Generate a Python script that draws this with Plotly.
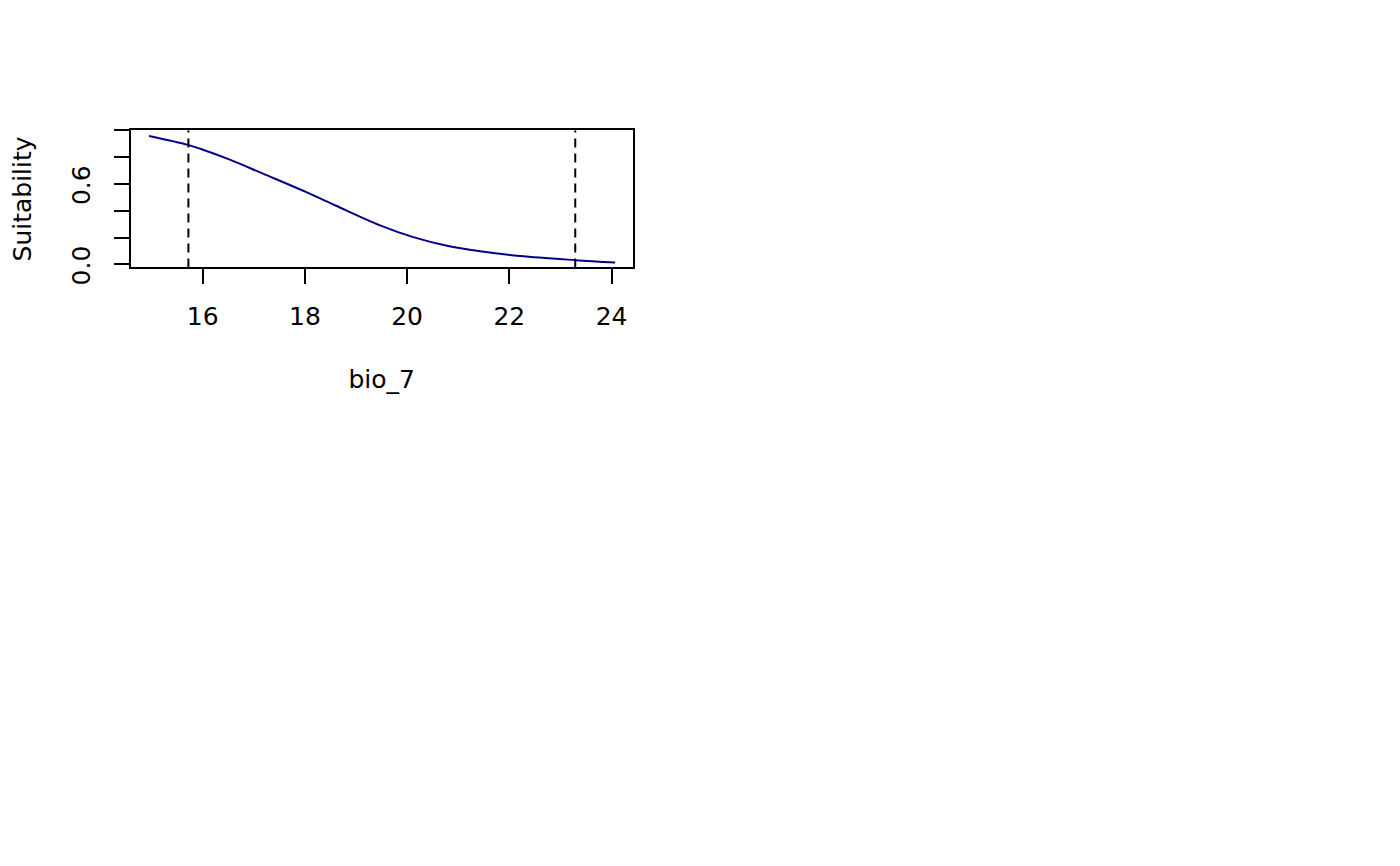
import plotly.graph_objects as go

# Data
bio_7 = [14.95, 15.71, 15.95, 16.53, 17.18, 18.04, 18.61, 19.47, 20.12,
         20.78, 21.43, 22.21, 23.29, 24.07]
suitability = [0.958, 0.892, 0.863, 0.782, 0.677, 0.537, 0.437, 0.291, 0.203,
               0.139, 0.098, 0.062, 0.031, 0.013]
thresholds = [15.72, 23.29]

x_ticks = [16, 18, 20, 22, 24]
y_ticks = [0.0, 0.2, 0.4, 0.6, 0.8, 1.0]
y_tick_text = ["0.0", "", "", "0.6", "", ""]

W, H = 1400, 866
OFF_X, OFF_Y = 8, 5  # page offset of the plot
FONT = "DejaVu Sans"

fig = go.Figure()
fig.add_trace(go.Scatter(
    x=bio_7, y=suitability, mode="lines",
    line=dict(color="#00008B", width=2, shape="spline", smoothing=1.0),
    showlegend=False, hoverinfo="skip"))

for t in thresholds:
    fig.add_vline(x=t, line=dict(color="black", width=2, dash="9px,6px"))

fig.update_layout(
    width=W, height=H,
    margin=dict(l=0, r=0, t=0, b=0),
    paper_bgcolor="white", plot_bgcolor="white",
    font=dict(family=FONT, size=25, color="black"),
    xaxis=dict(
        domain=[(130.5 - OFF_X) / W, (633 - OFF_X) / W],
        range=[14.587, 24.42],
        tickvals=x_ticks, ticktext=[str(v) for v in x_ticks],
        ticks="outside", ticklen=15, tickwidth=2, tickcolor="black",
        ticklabelstandoff=11,
        showline=True, linewidth=2, linecolor="black", mirror=True,
        showgrid=False, zeroline=False,
        title=dict(text="bio_7", standoff=40, font=dict(size=25)),
    ),
    yaxis=dict(
        domain=[(H - 270 + OFF_Y) / H, (H - 130 + OFF_Y) / H],
        range=[-0.024, 1.0],
        tickvals=y_ticks, ticktext=y_tick_text, tickangle=-90,
        ticks="outside", ticklen=15, tickwidth=2, tickcolor="black",
        ticklabelstandoff=14, ticklabelshift=5,
        showline=True, linewidth=2, linecolor="black", mirror=True,
        showgrid=False, zeroline=False,
        title=dict(text="Suitability", standoff=30, font=dict(size=25)),
    ),
)

fig.write_html("out.html")
